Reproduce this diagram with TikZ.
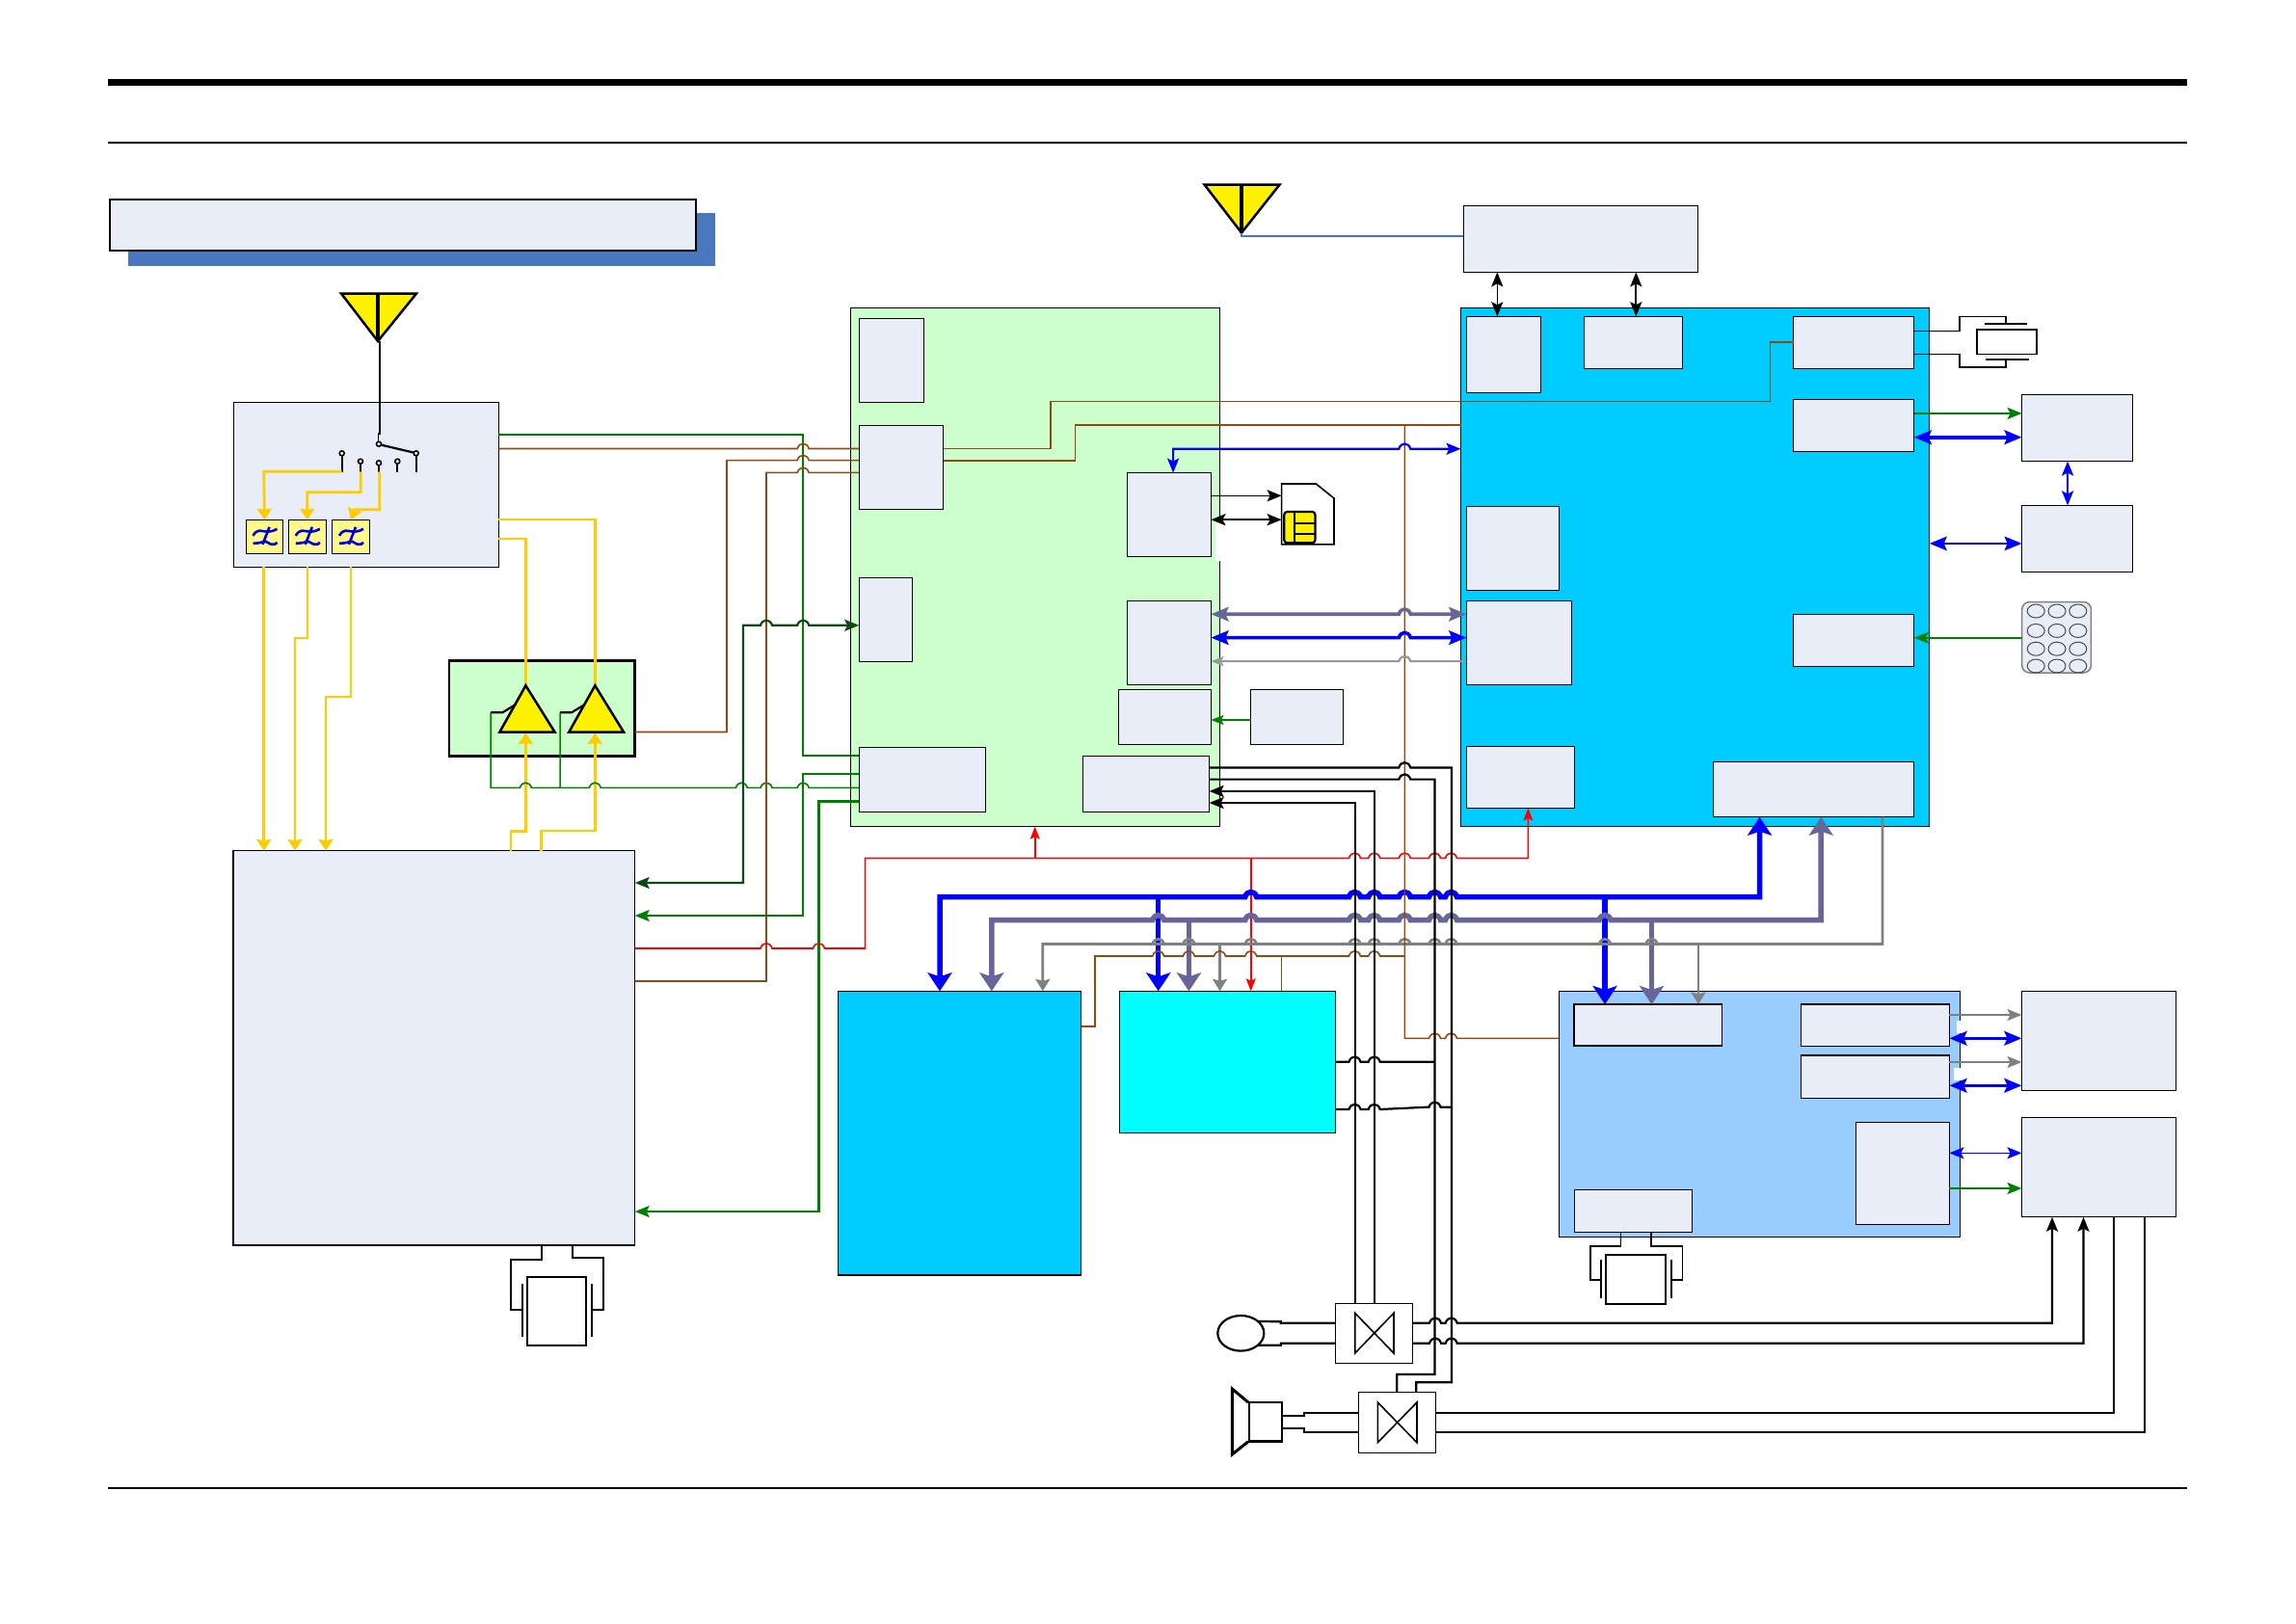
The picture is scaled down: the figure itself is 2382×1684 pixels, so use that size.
\documentclass[tikz,border=0pt]{standalone}
\usetikzlibrary{arrows.meta,shapes.geometric}
\definecolor{boxfill}{HTML}{E8EDF7}
\definecolor{shadowblue}{HTML}{4A78BE}
\definecolor{padgreen}{HTML}{CCFFCC}
\definecolor{padblue}{HTML}{00CCFF}
\definecolor{padcyan}{HTML}{00FFFF}
\definecolor{padsky}{HTML}{99CCFF}
\definecolor{amber}{HTML}{FFCC00}
\definecolor{wiregreen}{HTML}{008000}
\definecolor{wiredark}{HTML}{0B4A12}
\definecolor{wirebrown}{HTML}{8F4A14}
\definecolor{wirepurple}{HTML}{666699}
\definecolor{antblue}{HTML}{4472C4}
\tikzstyle{blk} = [rectangle, draw=black, fill=boxfill, line width=0.014cm, inner sep=0pt, outer sep=0pt, anchor=north west]
\tikzstyle{wire} = [line width=0.016cm]
\tikzstyle{hot} = [line width=0.022cm]
\tikzstyle{amb} = [amber, line width=0.027cm]
\tikzstyle{gry} = [gray, line width=0.027cm, >={Stealth[length=0.125cm,width=0.15cm,inset=0.02cm]}]
\tikzstyle{tipS} = [>={Stealth[length=0.13cm,width=0.10cm,inset=0.025cm]}]
\tikzstyle{tipD} = [>={Stealth[length=0.15cm,width=0.12cm,inset=0.03cm]}]
\tikzstyle{tipM} = [>={Stealth[length=0.18cm,width=0.145cm,inset=0.03cm]}]
\tikzstyle{tipY} = [>={Stealth[length=0.115cm,width=0.15cm,inset=0.01cm]}]
\tikzstyle{tipL} = [>={Stealth[length=0.19cm,width=0.25cm,inset=0.04cm]}]
\tikzstyle{bus} = [line width=0.055cm, tipL]
\tikzstyle{dbus} = [line width=0.036cm, tipM]
% box from its two corners
\newcommand{\blk}[6][]{\node[blk, minimum width={(#5-#3)*0.01cm}, minimum height={(#6-#4)*0.01cm}, #1] (#2) at (#3,#4) {};}
% hops of a horizontal wire at height #1
\newcommand{\hops}[2]{foreach \hx in {#2} {-- ({\hx-6},#1) .. controls ({\hx-4},{#1-7}) and ({\hx+4},{#1-7}) .. ({\hx+6},#1)}}
\begin{document}
\begin{tikzpicture}[x=0.01cm,y=-0.01cm]
\useasboundingbox (0,0) rectangle (2382,1684);

	%% page rules
	\coordinate (R1) at (112,85);
	\coordinate (R2) at (2269,85);
	\draw[line width=0.07cm] (R1) -- (R2);
	\draw[line width=0.02cm] (112,147.5) -- (2269,147.5);
	\draw[line width=0.02cm] (112,1543.5) -- (2269,1543.5);

	%% title
	\fill[shadowblue] (133,221) rectangle (742,276);
	\blk{title}{114}{207}{722}{260}

	%% large pads
	\blk[fill=padgreen]{rfpad}{882.3}{319.5}{1265.3}{857.6}
	\fill[white] (1260.7,541) rectangle (1266,581.7);
	\blk[fill=padblue]{cpupad}{1515.5}{319.6}{2001.7}{857.3}
	\blk[fill=padgreen,line width=0.025cm]{papad}{465.8}{685.6}{658.7}{784.3}
	\blk{frontend}{242.3}{417.3}{517.3}{588.3}
	\blk{xcvr}{242}{882.5}{658.7}{1292}
	\blk[fill=padblue]{memA}{869.6}{1028.3}{1121.6}{1323}
	\blk[fill=padcyan]{memB}{1161.4}{1028.3}{1385.4}{1175.3}
	\blk[fill=padsky]{codecpad}{1617.4}{1028.4}{2033.5}{1283.3}
	\fill[white] (2030,1059.3) rectangle (2034.5,1071.7);
	\fill[white] (2027,1108.3) rectangle (2034.5,1120.7);

	%% blocks in the green pad
	\blk{rfa}{891.2}{330.2}{958.7}{417.5}
	\blk{rfb}{891.2}{441.2}{978.7}{528.5}
	\blk{rfc}{891.2}{599.3}{946.6}{686.5}
	\blk{rfd}{891.2}{775.3}{1022.5}{842.3}
	\blk{rfe}{1169.4}{490.6}{1256.4}{577.5}
	\blk{rff}{1169.4}{623.4}{1256.4}{710.3}
	\blk{rfg}{1160.4}{715.6}{1256.4}{772.3}
	\blk{rfh}{1123.4}{784.5}{1254.6}{842.3}
	\blk{tcxo}{1297.5}{715.6}{1393.5}{772.3}

	%% blocks in the blue pad
	\blk{gps}{1518.4}{213.5}{1761.7}{282.4}
	\blk{cpua}{1521.3}{328.3}{1598.4}{407.3}
	\blk{cpub}{1643.5}{328.3}{1745.7}{382.5}
	\blk{cpuc}{1860.6}{328.3}{1985.7}{382.5}
	\blk{cpud}{1860.6}{414.7}{1985.7}{468.4}
	\blk{cpue}{1521.3}{525.3}{1617.3}{612.6}
	\blk{cpuf}{1521.3}{623.6}{1630.4}{710.4}
	\blk{cpug}{1860.6}{637.4}{1985.7}{691.6}
	\blk{cpuh}{1521.3}{774.7}{1633.3}{838.5}
	\blk{cpui}{1777.2}{790.7}{1985.7}{847.7}
	\blk{lcdA}{2097.6}{409.6}{2212.5}{478.5}
	\blk{lcdB}{2097.6}{524.4}{2212.5}{593.3}

	%% blocks in the codec pad
	\blk{coda}{1633}{1042}{1786.4}{1085}
	\blk{codb}{1868.2}{1042}{2022.4}{1085.5}
	\blk{codc}{1868.2}{1095}{2022.4}{1139.3}
	\blk{codd}{1925.3}{1164.3}{2022.4}{1270.3}
	\blk{code}{1633.3}{1234.3}{1755.2}{1278.3}
	\blk{exta}{2097.5}{1028.4}{2257.3}{1131.5}
	\blk{extb}{2097.5}{1159.3}{2257.3}{1262.7}

	%% filters
	\blk[fill=yellow!45]{flta}{255.3}{539.3}{293.7}{574.3}
	\blk[fill=yellow!45]{fltb}{299.3}{539.3}{338.3}{574.3}
	\blk[fill=yellow!45]{fltc}{344.3}{539.3}{383.7}{574.3}
	\foreach \f in {flta,fltb,fltc}
	{
	  \begin{scope}[shift={(\f.center)}]
	    \draw[blue!85!black,line width=0.026cm] (-12,-1) .. controls (-8,-8) and (-4,-6) .. (0,-5.5) .. controls (4,-5) and (8,-5) .. (13,-8);
	    \draw[blue!85!black,line width=0.026cm] (-12,7) .. controls (-7,7) and (-4,6) .. (1,5) .. controls (4,5) and (4,8) .. (8,8) .. controls (10,8) and (12,8) .. (13,6);
	    \draw[blue!85!black,line width=0.026cm] (5,-10) -- (-2,8);
	    \draw[blue!85!black,line width=0.026cm] (-5,-6) -- (1,-6);
	  \end{scope}
	}

	%% antennas
	\coordinate (antA) at (392,354);
	\coordinate (antB) at (1288,241.5);
	\draw[fill=yellow,line width=0.025cm,line join=miter] (354,304.5) -- (432,304.5) -- (antA) -- cycle;
	\draw[line width=0.04cm] (392,304.5) -- (antA);
	\draw[fill=yellow,line width=0.025cm,line join=miter] (1249.5,191.5) -- (1327.6,191.5) -- (antB) -- cycle;
	\draw[line width=0.04cm] (1288,191.5) -- (antB);
	\draw[antblue,line width=0.011cm] (antB) -- (1288,245) -- (gps.west |- 0,245);

	%% switch
	\draw[line width=0.013cm] (394,354) -- (394,450) -- (392.3,450) -- (392.3,458);
	\draw[hot] (395,461.5) -- (431,470);
	\foreach \x/\y in {393/460.7,354.7/470.3,374/478.7,393/480.3,412.3/478.7,431.7/470.3}
	{
	  \draw[wire,fill=white] (\x,\y) circle (2.5);
	}
	\foreach \x/\y in {354.7/473,374/481,393/483,412.3/481,431.7/473}
	{
	  \draw[hot] (\x,\y) -- (\x,489.5);
	}

	%% amber wires
	\draw[amb,tipY,->] (354.7,489.3) -- (273.7,489.3) -- (flta.north);
	\draw[amb,tipY,->] (374.3,489.3) -- (374.3,510.7) -- (318.7,510.7) -- (fltb.north);
	\draw[amb,tipY,->] (393.7,489.3) -- (393.7,528.7) -- (368,528.7) -- (fltc.north);
	\draw[amb,tipY,->] (frontend.south -| 273.7,0) -- (xcvr.north -| 273.7,0);
	\draw[amb,tipY,->] (frontend.south -| 319,0) -- (319,662) -- (306,662) -- (xcvr.north -| 306,0);
	\draw[amb,tipY,->] (frontend.south -| 364,0) -- (364,723) -- (338,723) -- (xcvr.north -| 338,0);
	\coordinate (paA) at (545.4,711.3);
	\coordinate (paB) at (617.3,711.3);
	\draw[amb] (frontend.east |- 0,559) -- (paA |- 0,559) -- (paA);
	\draw[amb] (frontend.east |- 0,539) -- (paB |- 0,539) -- (paB);
	\draw[amb,tipY,->] (xcvr.north -| 530,0) -- (530,862.8) -- (545.4,862.8) -- (545.4,760.5);
	\draw[amb,tipY,->] (xcvr.north -| 561.7,0) -- (561.7,862) -- (617.3,862) -- (617.3,760.5);

	%% power amps
	\draw[fill=yellow,line width=0.025cm] (paA) -- (575.5,759.5) -- (518.4,759.5) -- cycle;
	\draw[fill=yellow,line width=0.025cm] (paB) -- (647,759.5) -- (590.3,759.5) -- cycle;
	\draw[hot] (534.7,731) -- (521.4,739.3) -- (509.2,739.3);
	\draw[hot] (606.6,731) -- (592.9,739.3) -- (581.1,739.3);
	\draw[wiregreen,wire] (509.2,739.3) -- (509.2,817.4) \hops{817.4}{545.4} -- (581.1,817.4);
	\draw[wiregreen,wire] (581.1,739.3) -- (581.1,817.4) \hops{817.4}{617.3,769.4,795,833.2} -- (rfd.west |- 0,817.4);

	%% wires of the transceiver
	\draw[wiregreen,hot] (frontend.east |- 0,451) -- (833.2,451) -- (833.2,783.7) -- (rfd.west |- 0,783.7);
	\draw[wirebrown,wire] (frontend.east |- 0,465.5) \hops{465.5}{833.2} -- (rfb.west |- 0,465.5);
	\draw[wirebrown,wire] (papad.east |- 0,759.5) -- (754,759.5) -- (754,477.6) \hops{477.6}{833.2} -- (rfb.west |- 0,477.6);
	\draw[wirebrown,wire] (xcvr.east |- 0,1018) -- (795,1018) -- (795,490.4) \hops{490.4}{833.2} -- (rfb.west |- 0,490.4);
	\draw[wiredark,hot,tipD,<->] (xcvr.east |- 0,916) -- (771,916) -- (771,648.8) \hops{648.8}{795,833.2} -- (rfc.west |- 0,648.8);
	\draw[wiregreen,hot,tipD,<-] (xcvr.east |- 0,950) -- (833.2,950) -- (833.2,803) -- (rfd.west |- 0,803);
	\draw[wiregreen,hot,tipD,<-] (xcvr.east |- 0,1257) -- (849.5,1257) -- (849.5,831.5) -- (rfd.west |- 0,831.5);

	%% red control
	\draw[red,wire] (xcvr.east |- 0,984) \hops{984}{795,849.5} -- (897.6,984) -- (897.6,890.3) -- (1073.7,890.3);
	\draw[red,wire,tipS,->] (1073.7,890.3) -- (rfpad.south -| 1073.7,0);
	\draw[red,wire,tipS,->] (1297.7,890.3) -- (memB.north -| 1297.7,0);
	\draw[red,wire,tipS,->] (1073.7,890.3) \hops{890.3}{1405.5,1425.7,1457.3,1488.5,1505.5} -- (1585.4,890.3) -- (cpuh.south -| 1585.4,0);

	%% buses
	\draw[blue,bus,<->] (memA.north -| 975,0) -- (975,930.7) \hops{930.7}{1297.7,1405.5,1425.7,1457.3,1488.5,1505.5} -- (1825.5,930.7) -- (cpui.south -| 1825.5,0);
	\draw[blue,bus,->] (1201.7,930.7) -- (memB.north -| 1201.7,0);
	\draw[blue,bus,->] (1665,930.7) -- (coda.north -| 1665,0);
	\draw[wirepurple,bus,<->] (memA.north -| 1028.8,0) -- (1028.8,954.7) \hops{954.7}{1201.7,1297.7,1405.5,1425.7,1457.3,1488.5,1505.5,1665} -- (1889.2,954.7) -- (cpui.south -| 1889.2,0);
	\draw[wirepurple,bus,->] (1233.4,954.7) -- (memB.north -| 1233.4,0);
	\draw[wirepurple,bus,->] (1713.5,954.7) -- (coda.north -| 1713.5,0);
	\draw[gry,->] (cpui.south -| 1953,0) -- (1953,979.5) \hops{979.5}{1713.5,1665,1505.5,1488.5,1457.3,1425.7,1405.5,1297.7,1233.4,1201.7} -- (1081.8,979.5) -- (memA.north -| 1081.8,0);
	\draw[gry,->] (1265.5,979.5) -- (memB.north -| 1265.5,0);
	\draw[gry,->] (1762,979.5) -- (coda.north -| 1762,0);

	%% brown wires
	\draw[wirebrown,wire] (memA.east |- 0,1065) -- (1136,1065) -- (1136,992) \hops{992}{1201.7,1233.4,1265.5,1297.7,1405.5,1425.7} -- (1457.3,992);
	\draw[wirebrown,wire] (1329.3,992) -- (memB.north -| 1329.3,0);
	\draw[wirebrown,wire] (rfb.east |- 0,465.3) -- (1090,465.3) -- (1090,416.4) -- (1836.4,416.4) -- (1836.4,355) -- (cpuc.west |- 0,355);
	\draw[wirebrown,wire] (rfb.east |- 0,478) -- (1115.3,478) -- (1115.3,441.2) -- (cpupad.west |- 0,441.2);
	\draw[wirebrown,wire] (1457.3,441.2) -- (1457.3,1077.3) \hops{1077.3}{1488.5,1505.5} -- (codecpad.west |- 0,1077.3);

	%% green pad to blue pad
	\draw[blue,hot,tipD,<->] (1217.1,490.6) -- (1217.1,465.7) \hops{465.7}{1457.3} -- (cpupad.west |- 0,465.7);
	\draw[wirepurple,dbus,<->] (rff.east |- 0,637.2) \hops{637.2}{1457.3} -- (cpuf.west |- 0,637.2);
	\draw[blue,dbus,<->] (rff.east |- 0,661.6) \hops{661.6}{1457.3} -- (cpuf.west |- 0,661.6);
	\draw[gray!80,hot,tipS,<-] (rff.east |- 0,686.1) \hops{686.1}{1457.3} -- (cpuf.west |- 0,686.1);
	\draw[wiregreen,hot,tipS,->] (tcxo.west |- 0,747) -- (rfg.east |- 0,747);
	\draw[hot] (rfh.east |- 0,796.4) \hops{796.4}{1457.3} -- (1506,796.4) -- (1506,1434.3) -- (1469.3,1434.3) -- (1469.3,1444.3);
	\draw[hot] (rfh.east |- 0,808.6) \hops{808.6}{1457.3} -- (1488.5,808.6) -- (1488.5,1426) -- (1449.3,1426) -- (1449.3,1444.3);
	\draw[hot,tipD,<-] (rfh.east |- 0,820.9) -- (1425.7,820.9) -- (1425.7,1352.3);
	\draw[hot,tipD,<-] (rfh.east |- 0,833) -- (1405.7,833) -- (1405.7,1352.3);
	\draw[hot] (memB.east |- 0,1101.7) \hops{1101.7}{1405.5,1425.7} -- (1488.5,1101.7);
	\draw[hot] (memB.east |- 0,1151) \hops{1151}{1405.5,1425.7} -- (1480,1148.7) \hops{1148.7}{1488.5} -- (1505.7,1148.7);

	%% sim card
	\draw[wire,fill=white] (1329.6,502) -- (1365.3,502) -- (1384,517) -- (1384,564.8) -- (1329.6,564.8) -- cycle;
	\coordinate (simA) at (1329.6,514.3);
	\coordinate (simB) at (1329.6,539.2);
	\draw[fill=yellow,hot,rounded corners=0.03cm] (1332.3,531) rectangle (1364.4,563.3);
	\draw[hot] (1342.6,531) -- (1342.6,563.3);
	\draw[hot] (1342.6,543) -- (1364.4,543);
	\draw[hot] (1342.6,553.7) -- (1364.4,553.7);
	\draw[wire,tipD,->] (rfe.east |- simA) -- (simA);
	\draw[hot,tipD,<->] (rfe.east |- simB) -- (simB);

	%% gps and blue pad
	\draw[wire,tipD,<->] (gps.south -| 1553.3,0) -- (cpua.north -| 1553.3,0);
	\draw[hot,tipD,<->] (gps.south -| 1697.3,0) -- (cpub.north -| 1697.3,0);

	%% crystal of cpu
	\blk[fill=white,line width=0.018cm]{xtalA}{2051.1}{341.6}{2113.1}{367.4}
	\draw[wire] (cpuc.east |- 0,343.5) -- (2033.2,343.5) -- (2033.2,328.3) -- (2081.2,328.3) -- (2081.2,335.7);
	\draw[wire] (2058.9,335.7) -- (2103,335.7);
	\draw[wire] (cpuc.east |- 0,367.4) -- (2033.2,367.4) -- (2033.2,380.7) -- (2081.2,380.7) -- (2081.2,372.9);
	\draw[wire] (2059.9,372.9) -- (2105,372.9);

	%% cpu to display
	\draw[wiregreen,hot,tipD,->] (cpud.east |- 0,428.9) -- (lcdA.west |- 0,428.9);
	\draw[blue,dbus,<->] (cpud.east |- 0,453.7) -- (lcdA.west |- 0,453.7);
	\draw[blue,hot,tipD,<->] (lcdA.south -| 2145.1,0) -- (lcdB.north -| 2145.1,0);
	\draw[blue,hot,tipM,<->] (cpupad.east |- 0,563.9) -- (lcdB.west |- 0,563.9);

	%% keypad
	\node[rectangle, rounded corners=0.08cm, draw=gray, fill=boxfill, line width=0.015cm, minimum width=0.718cm, minimum height=0.735cm, inner sep=0pt, outer sep=0pt, anchor=north west] (keypad) at (2097.6,624.5) {};
	\foreach \x in {2112.2,2134,2155.8}
	{
	  \foreach \y in {634,654.4,673.2,691}
	  {
	    \draw[black!70,line width=0.01cm] (\x,\y) ellipse (9 and 7);
	  }
	}
	\draw[wiregreen,wire,tipD,->] (keypad.west |- 0,661.7) -- (cpug.east |- 0,661.7);

	%% crystal of transceiver
	\blk[fill=white,line width=0.02cm]{xtalB}{546.7}{1325.3}{608.3}{1395.7}
	\draw[hot] (xcvr.south -| 562,0) -- (562,1307) -- (530,1307) -- (530,1359.3) -- (542,1359.3);
	\draw[hot] (xcvr.south -| 594,0) -- (594,1305.3) -- (626,1305.3) -- (626,1359.3) -- (614,1359.3);
	\draw[hot] (542,1332) -- (542,1387.3);
	\draw[hot] (614,1332) -- (614,1387.3);

	%% crystal of codec
	\blk[fill=white,line width=0.02cm]{xtalC}{1665.6}{1302.3}{1727.6}{1353.3}
	\draw[wire] (code.south -| 1681.5,0) -- (1681.5,1292.7) -- (1649.8,1292.7) -- (1649.8,1327.7) -- (1660.8,1327.7);
	\draw[wire] (code.south -| 1713.2,0) -- (1713.2,1292.7) -- (1745.5,1292.7) -- (1745.5,1327.7) -- (1733.8,1327.7);
	\draw[wire] (1660.8,1307.3) -- (1660.8,1346.7);
	\draw[wire] (1733.8,1307.3) -- (1733.8,1346.7);

	%% codec to peripherals
	\draw[gray,hot,tipD,->] (codb.east |- 0,1053) -- (exta.west |- 0,1053);
	\draw[blue,dbus,<->] (codb.east |- 0,1077.3) -- (exta.west |- 0,1077.3);
	\draw[gray,hot,tipD,->] (codc.east |- 0,1102) -- (exta.west |- 0,1102);
	\draw[blue,dbus,<->] (codc.east |- 0,1126.3) -- (exta.west |- 0,1126.3);
	\draw[blue,wire,tipD,<->] (codd.east |- 0,1196.3) -- (extb.west |- 0,1196.3);
	\draw[wiregreen,hot,tipD,->] (codd.east |- 0,1233) -- (extb.west |- 0,1233);

	%% mic and speaker
	\blk[fill=white]{micsw}{1385.7}{1352.3}{1465.7}{1414.3}
	\blk[fill=white]{spksw}{1409.3}{1444.3}{1489.3}{1507.3}
	\draw[wire] (1405.7,1362.3) -- (1446,1404) -- (1446,1362.3) -- (1405.7,1404) -- cycle;
	\draw[wire] (1429.3,1455) -- (1470,1496.7) -- (1470,1455) -- (1429.3,1496.7) -- cycle;
	\node[ellipse, draw, fill=white, line width=0.022cm, minimum width=0.48cm, minimum height=0.366cm, inner sep=0pt, outer sep=0pt] (mic) at (1287.3,1383.3) {};
	\draw[hot] (mic.35) -- (1328.7,1371.3) -- (1328.7,1372.7) -- (micsw.west |- 0,1372.7);
	\draw[hot] (mic.-35) -- (1329,1395.7) -- (1329,1393.7) -- (micsw.west |- 0,1393.7);
	\draw[hot,tipD,->] (micsw.east |- 0,1372.7) \hops{1372.7}{1489,1505.7} -- (2129,1372.7) -- (extb.south -| 2129,0);
	\draw[hot,tipD,->] (micsw.east |- 0,1393.7) \hops{1393.7}{1489,1505.7} -- (2161.5,1393.7) -- (extb.south -| 2161.5,0);
	\blk[fill=white,line width=0.025cm]{spk}{1296}{1455}{1330}{1495.7}
	\draw[line width=0.03cm] (1295,1455) -- (1278.3,1441) -- (1278.3,1509) -- (1295,1495.7);
	\draw[hot] (spk.east |- 0,1468.7) -- (1353.3,1468.7) -- (1353.3,1466) -- (spksw.west |- 0,1466);
	\draw[hot] (spk.east |- 0,1482) -- (1353.3,1482) -- (1353.3,1485.7) -- (spksw.west |- 0,1485.7);
	\draw[hot] (spksw.east |- 0,1466) -- (2192.6,1466) -- (extb.south -| 2192.6,0);
	\draw[hot] (spksw.east |- 0,1485.7) -- (2225,1485.7) -- (extb.south -| 2225,0);
\end{tikzpicture}
\end{document}
